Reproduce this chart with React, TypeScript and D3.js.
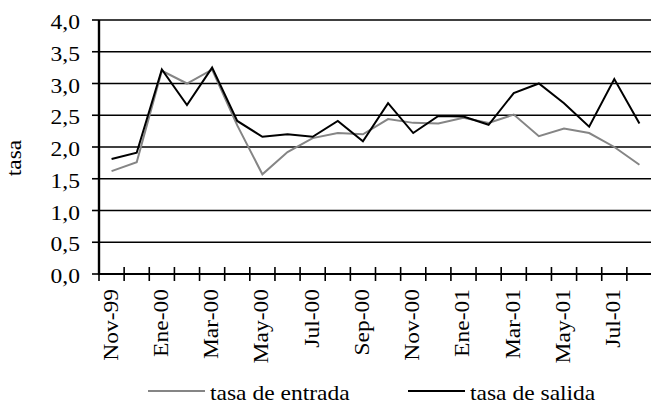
import React from 'react';
import * as d3 from 'd3';

const months = [
  'Nov-99', 'Dic-99', 'Ene-00', 'Feb-00', 'Mar-00', 'Abr-00', 'May-00', 'Jun-00',
  'Jul-00', 'Ago-00', 'Sep-00', 'Oct-00', 'Nov-00', 'Dic-00', 'Ene-01', 'Feb-01',
  'Mar-01', 'Abr-01', 'May-01', 'Jun-01', 'Jul-01', 'Ago-01',
];

// tasa de entrada (gris)
const entrada = [
  1.62, 1.76, 3.2, 3.0, 3.22, 2.34, 1.57, 1.92, 2.14, 2.22, 2.2,
  2.44, 2.38, 2.37, 2.46, 2.38, 2.51, 2.17, 2.29, 2.22, 2.0, 1.72,
];

// tasa de salida (negro)
const salida = [
  1.81, 1.91, 3.22, 2.66, 3.25, 2.41, 2.16, 2.2, 2.16, 2.41, 2.09,
  2.69, 2.22, 2.49, 2.48, 2.35, 2.85, 3.0, 2.69, 2.32, 3.07, 2.37,
];

const yTicks = [0, 0.5, 1, 1.5, 2, 2.5, 3, 3.5, 4];
const labelEvery = 2;

const W = 651;
const H = 404;
const FONT = 'Liberation Serif, Times New Roman, Times, serif';
const FS = 21;
const SX = 1.12;

const textStyle: React.CSSProperties = { fontFamily: FONT, fontSize: FS };

export default function App() {
  const x = d3.scaleBand<string>().domain(months).range([99, 652]).padding(0);
  const y = d3.scaleLinear().domain([0, 4]).range([274, 20]);
  const cx = (m: string) => (x(m) ?? 0) + x.bandwidth() / 2;

  const line = d3
    .line<number>()
    .x((_, i) => cx(months[i]))
    .y((d) => y(d));

  const tickXs = months.map((m) => x(m) ?? 0).concat([(x(months[months.length - 1]) ?? 0) + x.bandwidth()]);
  const fmt = (v: number) => v.toFixed(1).replace('.', ',');

  return (
    <svg width={W} height={H} style={{ position: 'absolute', left: 0, top: 0, background: '#fff' }}>
      {/* gridlines */}
      {yTicks.filter((t) => t > 0).map((t) => (
        <line key={t} x1={99} x2={652} y1={y(t)} y2={y(t)} stroke="#000" strokeWidth={1.6} />
      ))}

      {/* y axis */}
      <line x1={99} x2={99} y1={y(4)} y2={y(0) + 1} stroke="#000" strokeWidth={2.4} />
      {yTicks.map((t) => (
        <g key={t}>
          <line x1={92} x2={99} y1={y(t)} y2={y(t)} stroke="#000" strokeWidth={1.6} />
          <text transform={`translate(80,${y(t) + 9}) scale(${SX},1)`} textAnchor="end" style={textStyle}>
            {fmt(t)}
          </text>
        </g>
      ))}

      {/* x axis */}
      <line x1={99} x2={652} y1={y(0)} y2={y(0)} stroke="#000" strokeWidth={2} />
      {tickXs.map((tx, i) => (
        <line key={i} x1={tx} x2={tx} y1={y(0) - 7} y2={y(0) + 7} stroke="#000" strokeWidth={1.6} />
      ))}
      {months.map((m, i) =>
        i % labelEvery === 0 ? (
          <text
            key={m}
            transform={`translate(${cx(m) + 6},289) rotate(-90) scale(${SX},1)`}
            textAnchor="end"
            style={textStyle}
          >
            {m}
          </text>
        ) : null
      )}

      {/* y label */}
      <text transform={`translate(21,158) rotate(-90) scale(${SX},1)`} textAnchor="middle" style={textStyle}>
        tasa
      </text>

      {/* series */}
      <path d={line(entrada) ?? ''} fill="none" stroke="#858585" strokeWidth={2} />
      <path d={line(salida) ?? ''} fill="none" stroke="#000" strokeWidth={2} />

      {/* legend */}
      <line x1={148} x2={205} y1={391} y2={391} stroke="#858585" strokeWidth={2} />
      <text transform={`translate(210,400) scale(${SX},1)`} style={textStyle}>
        tasa de entrada
      </text>
      <line x1={408} x2={465} y1={391} y2={391} stroke="#000" strokeWidth={2} />
      <text transform={`translate(470,400) scale(${SX},1)`} style={textStyle}>
        tasa de salida
      </text>
    </svg>
  );
}
